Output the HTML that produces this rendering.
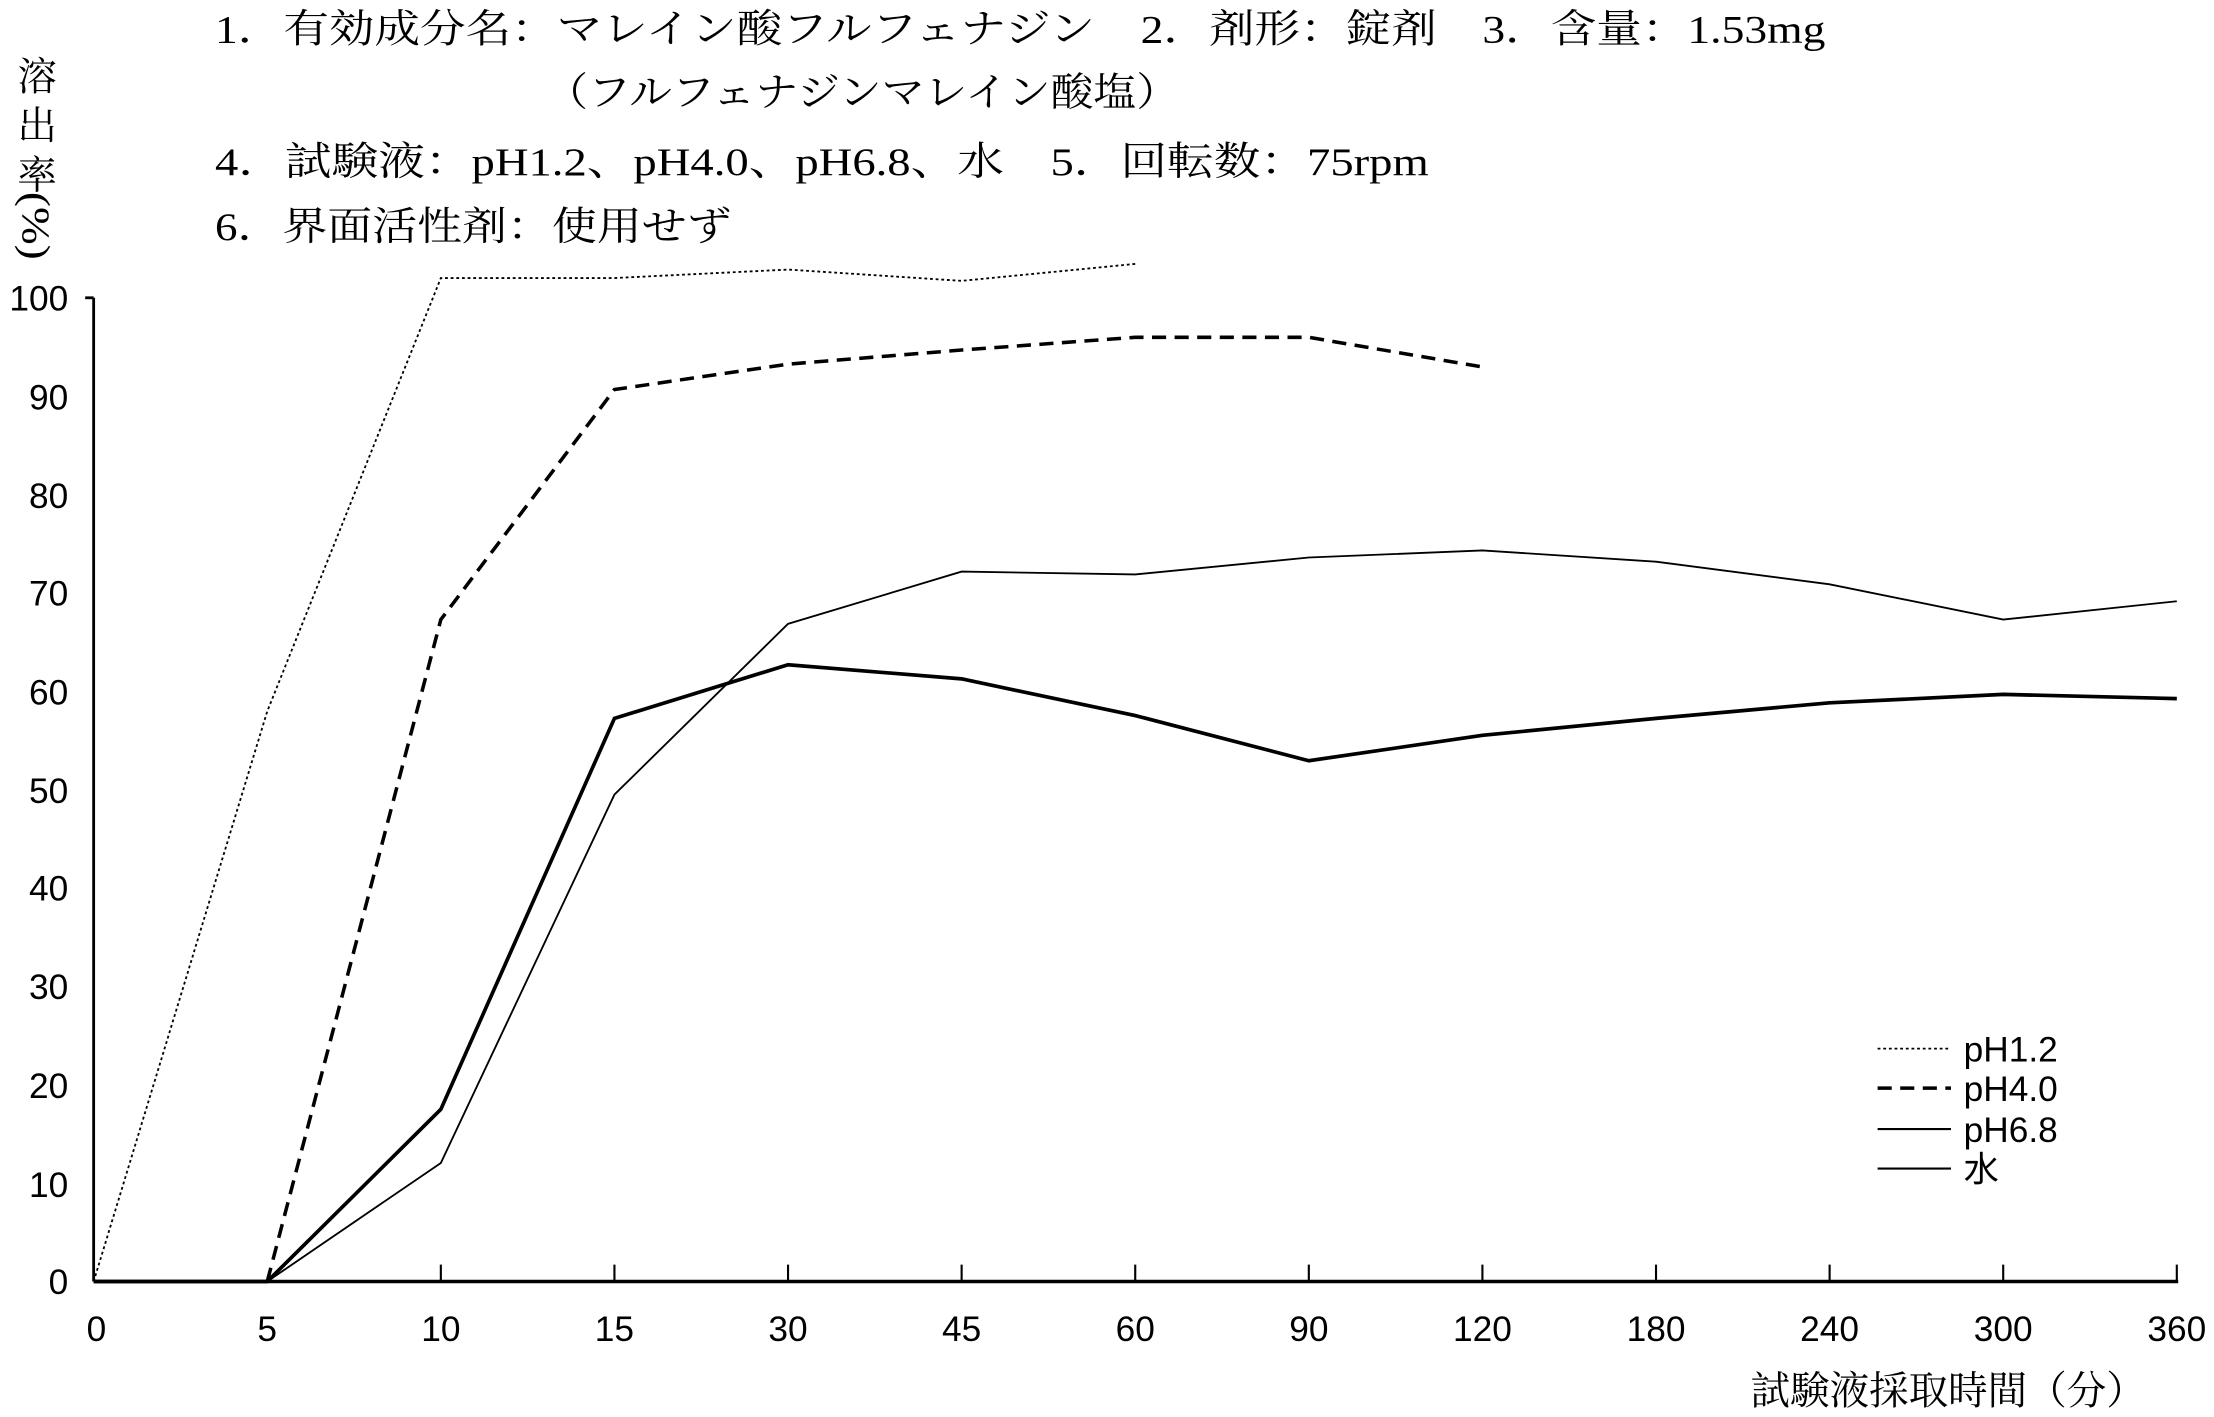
<!DOCTYPE html>
<html><head><meta charset="utf-8"><style>
html,body{margin:0;padding:0;background:#fff;}
svg{display:block;}
.t{font-family:"Liberation Serif","Noto Serif CJK SC",serif;font-size:28px;fill:#000;}
.a{font-family:"Liberation Sans","Noto Sans CJK JP",sans-serif;font-size:25px;fill:#000;}
</style></head><body>
<svg width="2214" height="1417" viewBox="0 0 1568 1004" xmlns="http://www.w3.org/2000/svg">
<rect width="1568" height="1004" fill="#fff"/>
<text class="t" x="152" y="30" textLength="1141" lengthAdjust="spacingAndGlyphs">1．有効成分名：マレイン酸フルフェナジン　2．剤形：錠剤　3．含量：1.53mg</text>
<text class="t" x="386" y="75" textLength="449" lengthAdjust="spacingAndGlyphs">（フルフェナジンマレイン酸塩）</text>
<text class="t" x="152" y="124" textLength="860" lengthAdjust="spacingAndGlyphs">4．試験液：pH1.2、pH4.0、pH6.8、水　5．回転数：75rpm</text>
<text class="t" x="152" y="170" textLength="366" lengthAdjust="spacingAndGlyphs">6．界面活性剤：使用せず</text>
<g class="t" font-size="26" text-anchor="middle">
<text x="26" y="64">溶</text><text x="26" y="99">出</text><text x="26" y="134">率</text>
<text x="26" y="170" transform="rotate(90 26 160)" textLength="48" lengthAdjust="spacingAndGlyphs">(%)</text>
</g>
<g class="a" text-anchor="end">
<text x="48" y="220">100</text><text x="48" y="290">90</text><text x="48" y="360">80</text><text x="48" y="429">70</text>
<text x="48" y="499">60</text><text x="48" y="569">50</text><text x="48" y="638">40</text><text x="48" y="708">30</text>
<text x="48" y="778">20</text><text x="48" y="848">10</text><text x="48" y="917">0</text>
</g>
<g class="a" text-anchor="middle">
<text x="68" y="950">0</text><text x="189" y="950">5</text><text x="312" y="950">10</text><text x="435" y="950">15</text>
<text x="558" y="950">30</text><text x="681" y="950">45</text><text x="804" y="950">60</text><text x="927" y="950">90</text>
<text x="1050" y="950">120</text><text x="1173" y="950">180</text><text x="1296" y="950">240</text><text x="1419" y="950">300</text><text x="1542" y="950">360</text>
</g>
<text class="t" x="1240" y="995" font-size="26" textLength="280" lengthAdjust="spacingAndGlyphs">試験液採取時間（分）</text>
<g stroke="#000" fill="none">
<line x1="66" y1="211" x2="66" y2="908" stroke-width="2"/>
<line x1="60" y1="211" x2="66" y2="211" stroke-width="2"/>
<line x1="66" y1="908" x2="1543" y2="908" stroke-width="2.5"/>
<path d="M312 908V896M435 908V896M558 908V896M681 908V896M804 908V896M927 908V896M1050 908V896M1173 908V896M1296 908V896M1419 908V896M1542 908V896" stroke-width="1.5"/>
<polyline stroke-width="1.3" stroke-dasharray="2,2" points="66,908 189,504 312,197 435,197 558,191 681,199 804,187"/>
<polyline stroke-width="2.5" stroke-dasharray="10,6" points="189,908 312,439 435,276 558,258 681,248 804,239 927,239 1050,260"/>
<polyline stroke-width="2.6" points="66,908 189,908 312,786 435,509 558,471 681,481 804,507 927,539 1050,521 1173,509 1296,498 1419,492 1542,495"/>
<polyline stroke-width="1.3" points="189,908 312,824 435,563 558,442 681,405 804,407 927,395 1050,390 1173,398 1296,414 1419,439 1542,426"/>
<line x1="1330" y1="743" x2="1382" y2="743" stroke-width="1.3" stroke-dasharray="2,2"/>
<line x1="1330" y1="771" x2="1382" y2="771" stroke-width="2.5" stroke-dasharray="10,6"/>
<line x1="1330" y1="800" x2="1382" y2="800" stroke-width="1.5"/>
<line x1="1330" y1="828" x2="1382" y2="828" stroke-width="1.5"/>
</g>
<g class="a">
<text x="1391" y="752">pH1.2</text><text x="1391" y="780">pH4.0</text><text x="1391" y="809">pH6.8</text><text x="1391" y="837">水</text>
</g>
</svg>
</body></html>
